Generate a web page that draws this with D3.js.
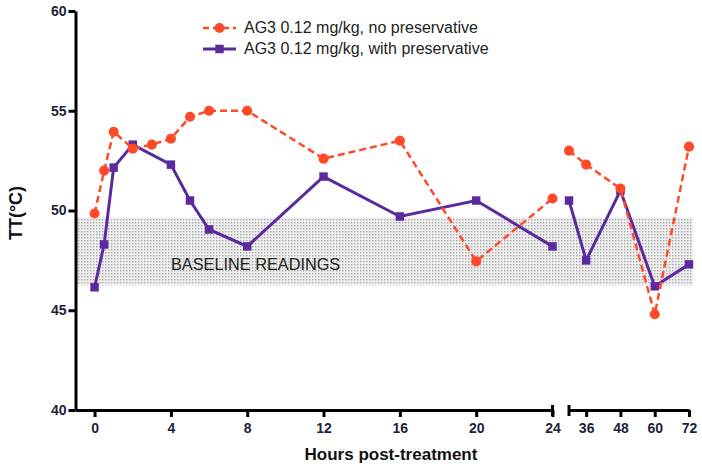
<!DOCTYPE html>
<html>
<head>
<meta charset="utf-8">
<script src="https://cdn.jsdelivr.net/npm/d3@7"></script>
<style>
  html, body { margin: 0; padding: 0; background: #fff; }
  svg { display: block; font-family: "Liberation Sans", Arial, sans-serif; }
  .tick text { font-weight: bold; font-size: 14px; fill: #1f1f3a; }
</style>
</head>
<body>
<svg id="chart" width="702" height="466"></svg>
<script>
// hours, split into the two axis segments
const hoursEarlyRed = [0, 0.5, 1, 2, 3, 4, 5, 6, 8, 12, 16, 20, 24];
const hoursEarlyPurple = [0, 0.5, 1, 2, 4, 5, 6, 8, 12, 16, 20, 24];
const hoursLate = [30, 36, 48, 60, 72];

const noPresEarly = [49.85, 52.0, 53.95, 53.1, 53.3, 53.6, 54.7, 55.0, 55.0, 52.6, 53.5, 47.45, 50.6];
const noPresLate = [53.0, 52.3, 51.1, 44.8, 53.2];
const withPresEarly = [46.15, 48.3, 52.15, 53.3, 52.3, 50.5, 49.05, 48.2, 51.7, 49.7, 50.5, 48.2];
const withPresLate = [50.5, 47.5, 51.0, 46.2, 47.3];

const seriesNames = ['AG3 0.12 mg/kg, no preservative', 'AG3 0.12 mg/kg, with preservative'];
const xTicksEarly = [0, 4, 8, 12, 16, 20, 24];
const xTicksLate = [36, 48, 60, 72];
const yTicks = [40, 45, 50, 55, 60];
const baseline = [46.25, 49.65];

const RED = '#ff4a2a';
const PURPLE = '#5b2b9e';

const svg = d3.select('#chart');

const y = d3.scaleLinear().domain([40, 60]).range([410, 11]);
const x1 = d3.scaleLinear().domain([-1, 24]).range([75.5, 552.5]);
const x2 = d3.scaleLinear().domain([30, 72]).range([569, 689]);

// stipple pattern for the baseline band
const pat = svg.append('defs').append('pattern')
  .attr('id', 'dots')
  .attr('patternUnits', 'userSpaceOnUse')
  .attr('width', 3).attr('height', 3);
pat.append('rect').attr('width', 3).attr('height', 3).attr('fill', '#efefef');
pat.append('rect').attr('width', 1.4).attr('height', 1.4).attr('fill', '#a8a8a8');

svg.append('rect')
  .attr('x', x1(-1))
  .attr('y', y(baseline[1]))
  .attr('width', 693 - x1(-1))
  .attr('height', y(baseline[0]) - y(baseline[1]))
  .attr('fill', 'url(#dots)');

svg.append('text')
  .attr('x', 171)
  .attr('y', 270)
  .attr('font-size', 16.3)
  .attr('fill', '#222')
  .text('BASELINE READINGS');

// axes
function styleAxis(g) {
  g.selectAll('.domain').attr('stroke', '#000').attr('stroke-width', 3);
  g.selectAll('.tick line').attr('stroke', '#000').attr('stroke-width', 3);
}

const yAxis = svg.append('g')
  .attr('transform', `translate(${x1(-1)},0)`)
  .call(d3.axisLeft(y).tickValues(yTicks).tickSize(7).tickSizeOuter(0).tickPadding(2));
styleAxis(yAxis);

const xAxis1 = svg.append('g')
  .attr('transform', `translate(0,${y(40)})`)
  .call(d3.axisBottom(x1).tickValues(xTicksEarly).tickSize(7).tickSizeOuter(0).tickPadding(6));
styleAxis(xAxis1);

const xAxis2 = svg.append('g')
  .attr('transform', `translate(0,${y(40)})`)
  .call(d3.axisBottom(x2).tickValues(xTicksLate).tickSize(7).tickSizeOuter(0).tickPadding(6));
styleAxis(xAxis2);

// break caps
[x1(24), x2(30)].forEach(cx => {
  svg.append('line')
    .attr('x1', cx).attr('x2', cx)
    .attr('y1', y(40) - 5).attr('y2', y(40) + 6)
    .attr('stroke', '#000').attr('stroke-width', 3);
});

// series
function drawSeries(xs, hours, vals, color, dashed, shape) {
  const pts = hours.map((h, i) => [xs(h), y(vals[i])]);
  svg.append('path')
    .attr('d', d3.line()(pts))
    .attr('fill', 'none')
    .attr('stroke', color)
    .attr('stroke-width', dashed ? 2.5 : 3)
    .attr('stroke-dasharray', dashed ? '7,4' : null);
  const sym = d3.symbol().type(shape).size(shape === d3.symbolCircle ? 80 : 72);
  svg.append('g').selectAll('path')
    .data(pts)
    .join('path')
    .attr('transform', d => `translate(${d[0]},${d[1]})`)
    .attr('d', sym)
    .attr('fill', color);
}

drawSeries(x1, hoursEarlyPurple, withPresEarly, PURPLE, false, d3.symbolSquare);
drawSeries(x2, hoursLate, withPresLate, PURPLE, false, d3.symbolSquare);
drawSeries(x1, hoursEarlyRed, noPresEarly, RED, true, d3.symbolCircle);
drawSeries(x2, hoursLate, noPresLate, RED, true, d3.symbolCircle);

// legend
const legend = svg.append('g');
const legItems = [
  { name: seriesNames[0], color: RED, dashed: true, shape: d3.symbolCircle, y: 28 },
  { name: seriesNames[1], color: PURPLE, dashed: false, shape: d3.symbolSquare, y: 49 }
];
legItems.forEach(it => {
  legend.append('line')
    .attr('x1', 203).attr('x2', 236)
    .attr('y1', it.y).attr('y2', it.y)
    .attr('stroke', it.color)
    .attr('stroke-width', it.dashed ? 2.5 : 3)
    .attr('stroke-dasharray', it.dashed ? '6,4' : null);
  legend.append('path')
    .attr('transform', `translate(219.5,${it.y})`)
    .attr('d', d3.symbol().type(it.shape).size(it.shape === d3.symbolCircle ? 80 : 72))
    .attr('fill', it.color);
  legend.append('text')
    .attr('x', 244)
    .attr('y', it.y + 5)
    .attr('font-size', 16)
    .attr('fill', '#222')
    .text(it.name);
});

// axis titles
svg.append('text')
  .attr('transform', 'translate(22,213) rotate(-90)')
  .attr('text-anchor', 'middle')
  .attr('font-size', 18)
  .attr('font-weight', 'bold')
  .attr('fill', '#111')
  .text('TT(°C)');

svg.append('text')
  .attr('x', 391)
  .attr('y', 460)
  .attr('text-anchor', 'middle')
  .attr('font-size', 17)
  .attr('font-weight', 'bold')
  .attr('fill', '#111')
  .text('Hours post-treatment');
</script>
</body>
</html>
